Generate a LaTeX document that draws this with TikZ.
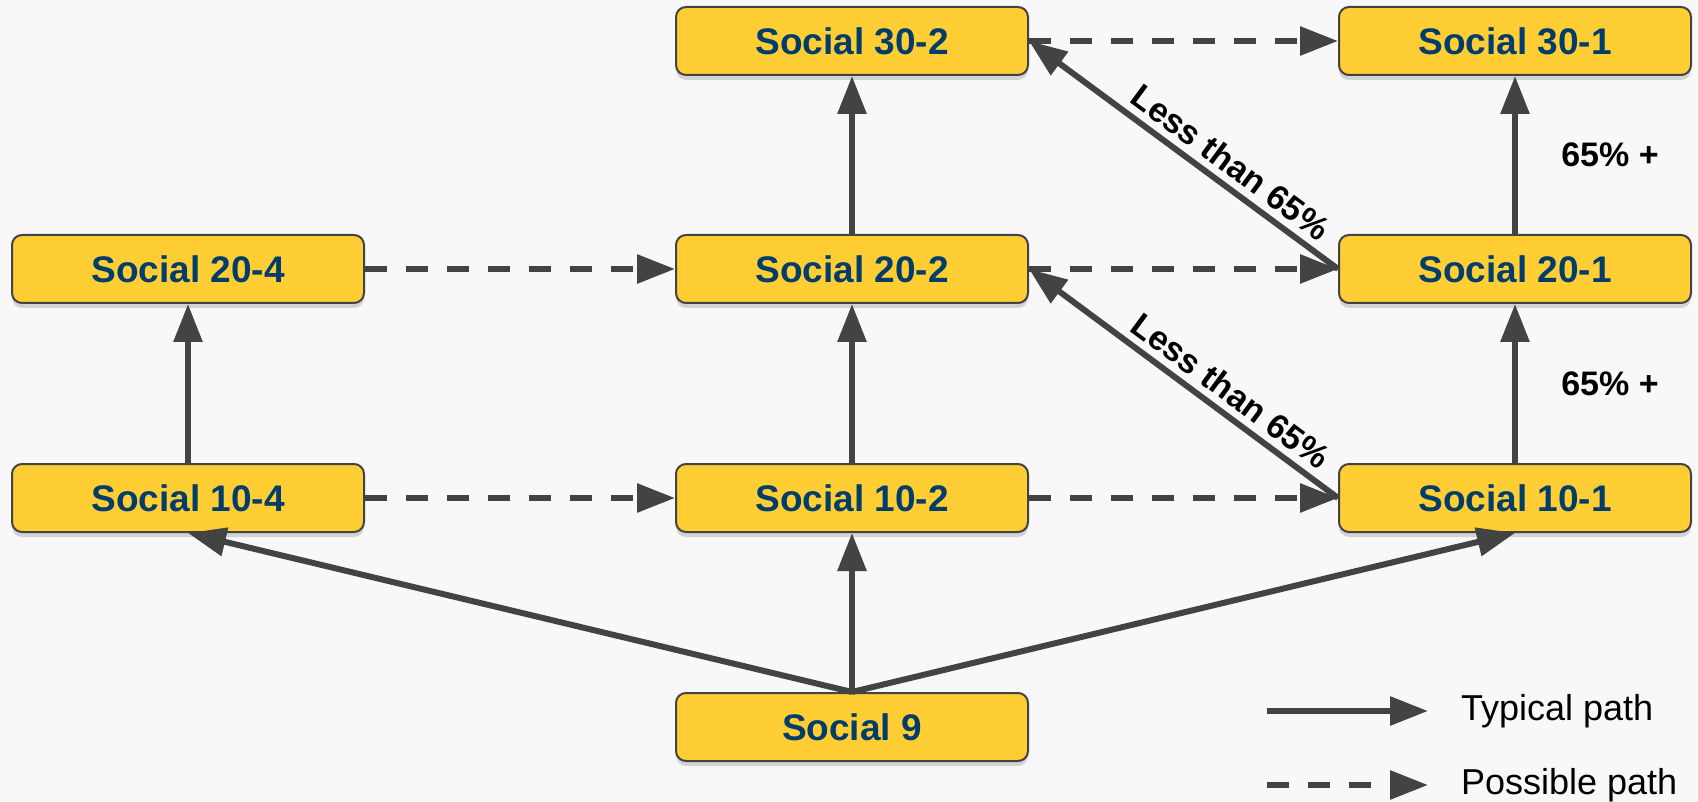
\documentclass[tikz,border=0pt]{standalone}
\usepackage{fontspec}
\setmainfont{Liberation Sans}
\usepackage{tikz}
\usetikzlibrary{arrows.meta}
\usetikzlibrary{shadows}
\definecolor{boxfill}{RGB}{255,205,52}
\definecolor{boxtext}{RGB}{0,61,107}
\definecolor{linegray}{RGB}{67,67,67}
\definecolor{paper}{RGB}{248,248,248}
\tikzset{course/.style = {draw = linegray, line width = 1pt, fill = boxfill, rounded corners = 5pt,
    minimum width = 176pt, minimum height = 34pt, inner sep = 0, text = boxtext,
    font = \fontsize{18.5}{20}\selectfont\bfseries,
    drop shadow = {shadow xshift = 0pt, shadow yshift = -2.5pt, opacity = 0.3}}}
\tikzset{typical/.style = {draw = linegray, line width = 3pt, -{Triangle[length = 19pt, width = 14pt]}}}
\tikzset{possible/.style = {typical, dash pattern = on 11pt off 9.5pt}}
\tikzset{cond/.style = {font = \fontsize{17}{19}\selectfont\bfseries}}
\tikzset{key/.style = {anchor = west, font = \fontsize{18}{20}\selectfont}}

\begin{document}
\begin{tikzpicture}[x = 0.5pt, y = -0.5pt]
  \useasboundingbox (0, 0) rectangle (1698, 802);
  \fill [paper] (0, 0) rectangle (1698, 802);
  % courses
  \node [course] (s302) at (852, 41) {Social 30-2};
  \node [course] (s301) at (1515, 41) {Social 30-1};
  \node [course] (s204) at (188, 269) {Social 20-4};
  \node [course] (s202) at (852, 269) {Social 20-2};
  \node [course] (s201) at (1515, 269) {Social 20-1};
  \node [course] (s104) at (188, 498) {Social 10-4};
  \node [course] (s102) at (852, 498) {Social 10-2};
  \node [course] (s101) at (1515, 498) {Social 10-1};
  \node [course] (s9) at (852, 727) {Social 9};
  % typical paths
  \foreach \a/\b in {s9/s102, s102/s202, s202/s302, s104/s204, s101/s201, s201/s301} {
    \draw [typical] (\a) -- (\b);
  }
  \draw [typical] (s9.north) -- (s104.south);
  \draw [typical] (s9.north) -- (s101.south);
  \draw [typical] (s201.west) -- node [cond, sloped, above, pos = 0.39] {Less than 65\%} (s302.east);
  \draw [typical] (s101.west) -- node [cond, sloped, above, pos = 0.39] {Less than 65\%} (s202.east);
  \node [cond] (up2) at (1610, 155) {65\% +};
  \node [cond] (up1) at (1610, 384) {65\% +};
  % possible paths
  \foreach \a/\b in {s204/s202, s104/s102, s102/s101, s202/s201, s302/s301} {
    \draw [possible] (\a) -- (\b);
  }
  % legend
  \node [key] (tlab) at (1454, 711) {Typical path};
  \node [key] (plab) at (1454, 785) {Possible path};
  \coordinate (t0) at (1267, 711);
  \coordinate (t1) at (1428, 711);
  \coordinate (p0) at (1267, 785);
  \coordinate (p1) at (1428, 785);
  \draw [typical] (t0) -- (t1);
  \draw [possible] (p0) -- (p1);
\end{tikzpicture}
\end{document}
